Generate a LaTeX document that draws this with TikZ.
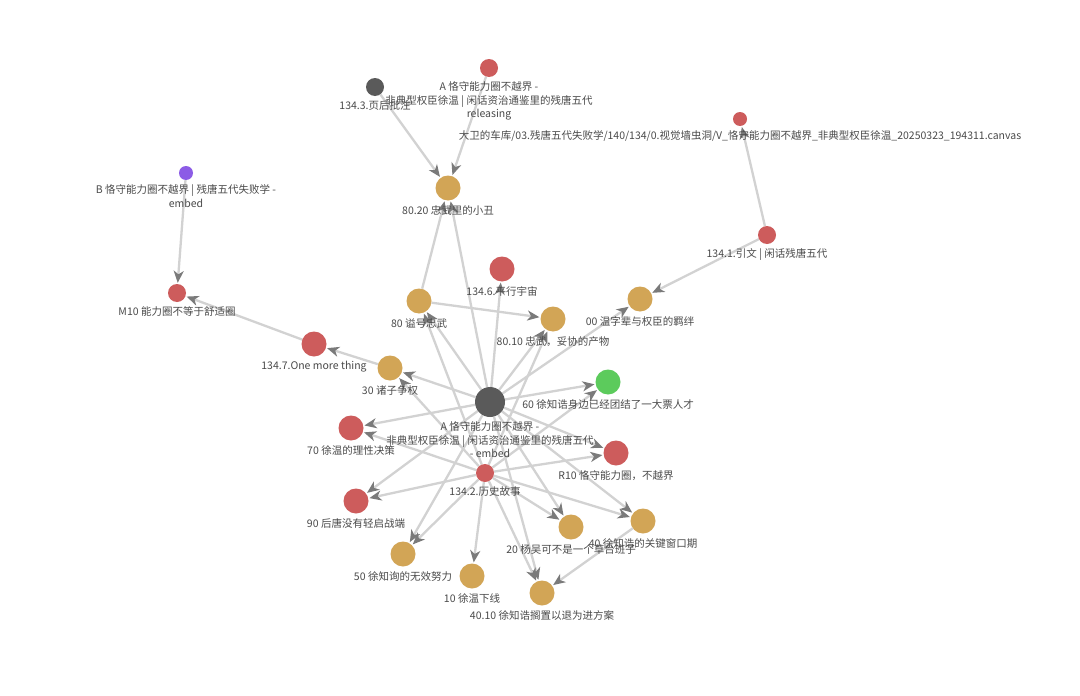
\documentclass[tikz,border=0pt]{standalone}
\usepackage{fontspec}
\setmainfont{Noto Sans CJK SC}
\usepackage{tikz}
\usetikzlibrary{arrows.meta}
\usetikzlibrary{backgrounds}
\definecolor{noteGold}{HTML}{D2A556}
\definecolor{noteRed}{HTML}{CD5C5C}
\definecolor{noteDark}{HTML}{5A5A5A}
\definecolor{noteGreen}{HTML}{5CCB5C}
\definecolor{notePurple}{HTML}{8C5CE6}
\definecolor{linkGray}{HTML}{D2D2D2}
\definecolor{tipGray}{HTML}{7A7A7A}
\definecolor{labelGray}{HTML}{4A4A4A}
\tikzset{note-node/.style={circle, inner sep=0, draw=none}}
\tikzset{hub-note/.style={note-node, minimum size=30pt}}
\tikzset{big-note/.style={note-node, minimum size=25pt}}
\tikzset{mid-note/.style={note-node, minimum size=18pt}}
\tikzset{small-note/.style={note-node, minimum size=14pt}}
\tikzset{every label/.style={text=labelGray, inner sep=0, align=center,
    font=\fontsize{10.5}{13.5}\selectfont}}
\tikzset{note-link/.style={
    line width=2.3pt,
    draw=linkGray,
    shorten >=1pt,
    -{Stealth[length=12pt, width=10pt, inset=3.5pt, color=tipGray]}
}}

\begin{document}
\begin{tikzpicture}[x=1pt, y=-1pt, label distance=4.5pt]
    \useasboundingbox (0,0) rectangle (1080,696);

    % upper notes
    \node[mid-note, fill=noteDark, label={below:{134.3.页后批注}}] (pagenote) at (375,87) {};
    \node[mid-note, fill=noteRed, label={below:{A 恪守能力圈不越界 -\\非典型权臣徐温 | 闲话资治通鉴里的残唐五代\\releasing}}] (arel) at (489,68) {};
    \node[small-note, fill=noteRed, label={below:{大卫的车库/03.残唐五代失败学/140/134/0.视觉墙虫洞/V\_恪守能力圈不越界\_非典型权臣徐温\_20250323\_194311.canvas}}] (canvas) at (740,119) {};
    \node[small-note, fill=notePurple, label={below:{B 恪守能力圈不越界 | 残唐五代失败学 -\\embed}}] (bnote) at (186,173) {};
    \node[big-note, fill=noteGold, label={below:{80.20 忠武里的小丑}}] (clown) at (448,188) {};
    \node[mid-note, fill=noteRed, label={below:{134.1.引文 | 闲话残唐五代}}] (quote) at (767,235) {};
    \node[big-note, fill=noteRed, label={below:{134.6.平行宇宙}}] (parallel) at (502,269) {};
    \node[mid-note, fill=noteRed, label={below:{M10 能力圈不等于舒适圈}}] (comfort) at (177,293) {};
    \node[big-note, fill=noteGold, label={below:{80 谥号忠武}}] (posth) at (419,301) {};
    \node[big-note, fill=noteGold, label={below:{00 温字辈与权臣的羁绊}}] (wen) at (640,299) {};
    \node[big-note, fill=noteGold, label={below:{80.10 忠武，妥协的产物}}] (compromise) at (553,319) {};
    \node[big-note, fill=noteRed, label={below:{134.7.One more thing}}] (more) at (314,344) {};
    \node[big-note, fill=noteGold, label={below:{30 诸子争权}}] (heirs) at (390,368) {};

    % hub and the chapters round it
    \node[hub-note, fill=noteDark, label={below:{A 恪守能力圈不越界 -\\非典型权臣徐温 | 闲话资治通鉴里的残唐五代\\- embed}}] (hub) at (490,402) {};
    \node[big-note, fill=noteGreen, label={below:{60 徐知诰身边已经团结了一大票人才}}] (talent) at (608,382) {};
    \node[big-note, fill=noteRed, label={below:{70 徐温的理性决策}}] (rational) at (351,428) {};
    \node[big-note, fill=noteRed, label={below:{R10 恪守能力圈，不越界}}] (circle) at (616,453) {};
    \node[mid-note, fill=noteRed, label={below:{134.2.历史故事}}] (story) at (485,473) {};
    \node[big-note, fill=noteRed, label={below:{90 后唐没有轻启战端}}] (war) at (356,501) {};
    \node[big-note, fill=noteGold, label={below:{20 杨吴可不是一个草台班子}}] (yangwu) at (571,527) {};
    \node[big-note, fill=noteGold, label={below:{40 徐知诰的关键窗口期}}] (window) at (643,521) {};
    \node[big-note, fill=noteGold, label={below:{50 徐知询的无效努力}}] (futile) at (403,554) {};
    \node[big-note, fill=noteGold, label={below:{10 徐温下线}}] (offline) at (472,576) {};
    \node[big-note, fill=noteGold, label={below:{40.10 徐知诰搁置以退为进方案}}] (retreat) at (542,593) {};

    \begin{scope}[on background layer]
        \fill[white] (0,0) rectangle (1080,696);

        % links outside the hub
        \draw[note-link] (pagenote) -- (clown);
        \draw[note-link] (arel) -- (clown);
        \draw[note-link] (quote) -- (canvas);
        \draw[note-link] (quote) -- (wen);
        \draw[note-link] (bnote) -- (comfort);
        \draw[note-link] (more) -- (comfort);
        \draw[note-link] (heirs) -- (more);
        \draw[note-link] (posth) -- (clown);
        \draw[note-link] (posth) -- (compromise);
        \draw[note-link] (window) -- (retreat);

        % links from the hub
        \draw[note-link] (hub) -- (clown);
        \draw[note-link] (hub) -- (parallel);
        \draw[note-link] (hub) -- (posth);
        \draw[note-link] (hub) -- (heirs);
        \draw[note-link] (hub) -- (rational);
        \draw[note-link] (hub) -- (compromise);
        \draw[note-link] (hub) -- (wen);
        \draw[note-link] (hub) -- (talent);
        \draw[note-link] (hub) -- (circle);
        \draw[note-link] (hub) -- (war);
        \draw[note-link] (hub) -- (futile);
        \draw[note-link] (hub) -- (yangwu);
        \draw[note-link] (hub) -- (window);
        \draw[note-link] (hub) -- (retreat);

        % links from 134.2
        \draw[note-link] (story) -- (posth);
        \draw[note-link] (story) -- (heirs);
        \draw[note-link] (story) -- (rational);
        \draw[note-link] (story) -- (compromise);
        \draw[note-link] (story) -- (talent);
        \draw[note-link] (story) -- (circle);
        \draw[note-link] (story) -- (war);
        \draw[note-link] (story) -- (futile);
        \draw[note-link] (story) -- (offline);
        \draw[note-link] (story) -- (yangwu);
        \draw[note-link] (story) -- (window);
        \draw[note-link] (story) -- (retreat);
    \end{scope}
\end{tikzpicture}
\end{document}
